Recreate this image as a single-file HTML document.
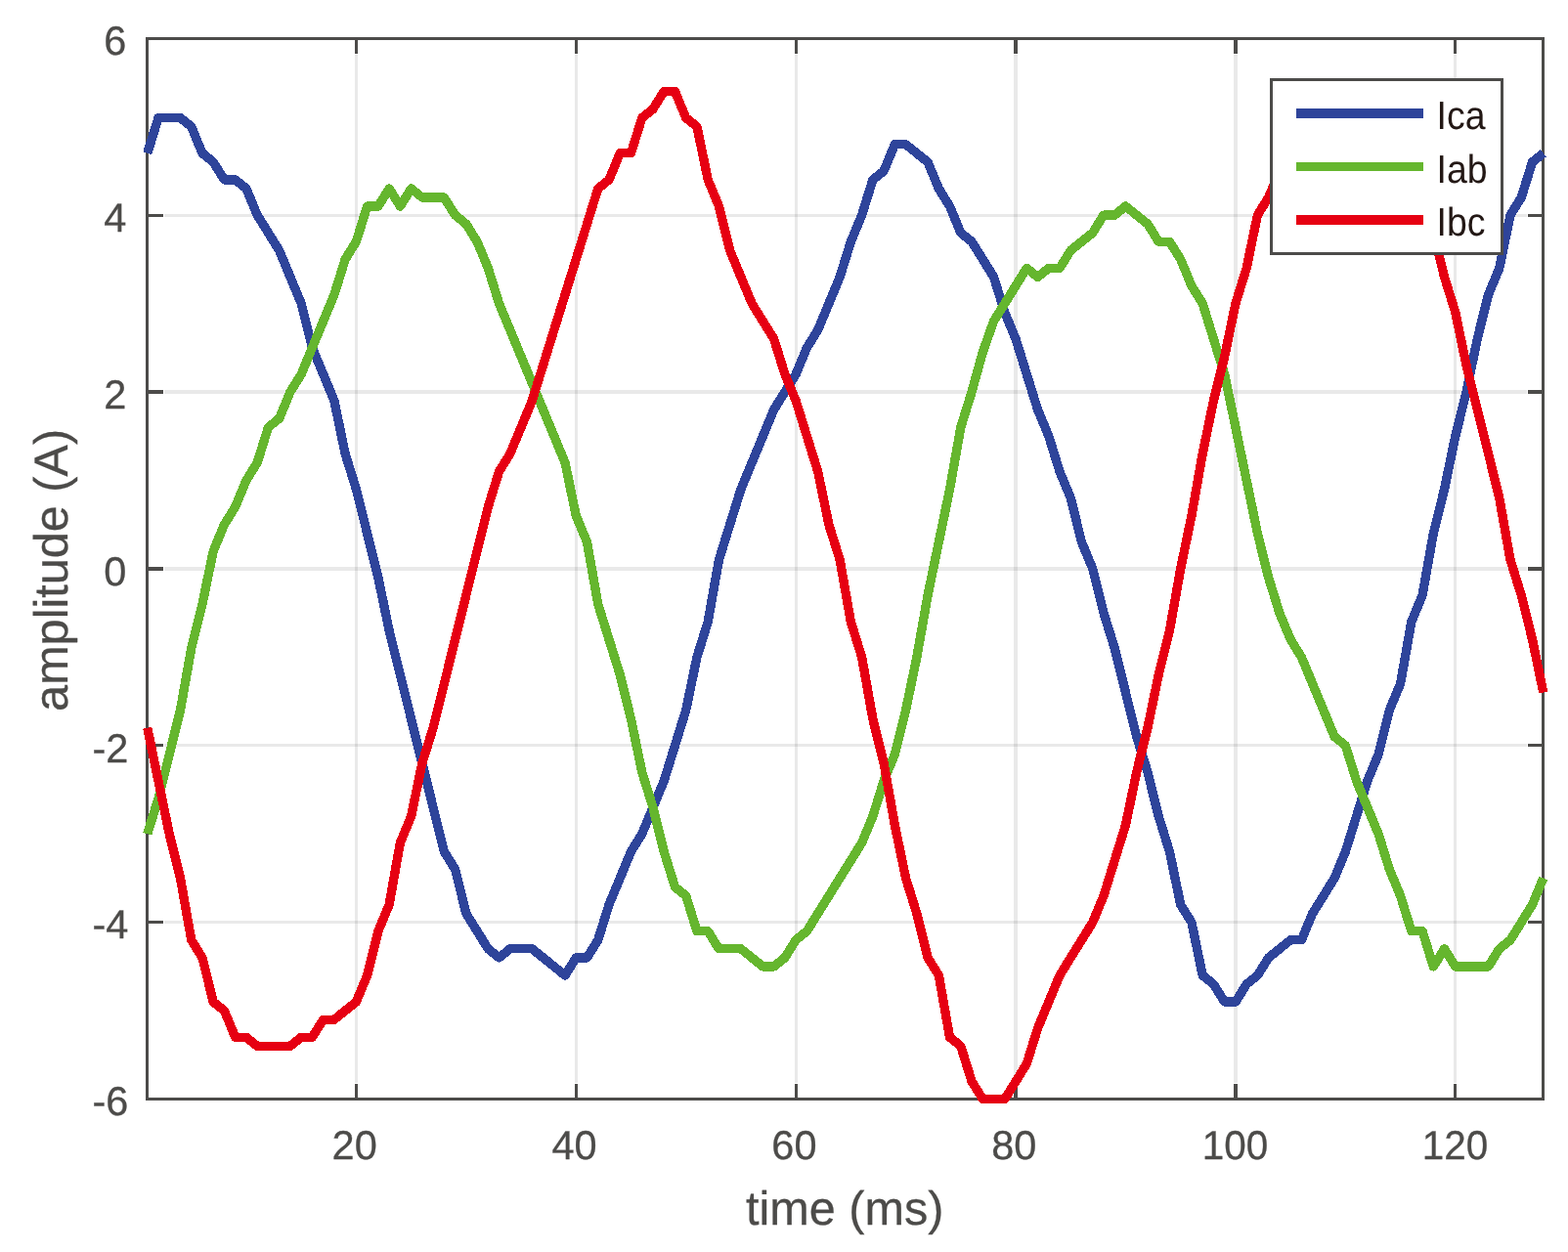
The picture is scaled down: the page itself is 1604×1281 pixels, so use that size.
<!DOCTYPE html>
<html lang="en"><head><meta charset="utf-8"><title>Line currents</title>
<style>html,body{margin:0;padding:0;background:#fff}body{width:1604px;height:1281px;overflow:hidden}svg{display:block}text{font-family:"Liberation Sans",Arial,Helvetica,sans-serif;text-rendering:geometricPrecision}</style></head><body>
<svg width="1604" height="1281" viewBox="0 0 1604 1281">
<rect x="0" y="0" width="1604" height="1281" fill="#fff"/>
<g fill="#262626" fill-opacity="0.1" shape-rendering="crispEdges">
<rect x="363" y="56" width="3" height="1052"/>
<rect x="588" y="56" width="3" height="1052"/>
<rect x="813" y="56" width="3" height="1052"/>
<rect x="1037" y="56" width="4" height="1052"/>
<rect x="1262" y="56" width="4" height="1052"/>
<rect x="1487" y="56" width="3" height="1052"/>
<rect x="168" y="219" width="1394" height="3"/>
<rect x="168" y="399" width="1394" height="4"/>
<rect x="168" y="580" width="1394" height="4"/>
<rect x="168" y="761" width="1394" height="3"/>
<rect x="168" y="942" width="1394" height="3"/>
</g>
<g fill="#4c4b49" shape-rendering="crispEdges">
<rect x="149" y="38" width="1431" height="3"/>
<rect x="149" y="1123" width="1431" height="3"/>
<rect x="149" y="38" width="3" height="1088"/>
<rect x="1577" y="38" width="3" height="1088"/>
<rect x="363" y="41" width="3" height="14"/>
<rect x="363" y="1109" width="3" height="14"/>
<rect x="588" y="41" width="3" height="14"/>
<rect x="588" y="1109" width="3" height="14"/>
<rect x="813" y="41" width="3" height="14"/>
<rect x="813" y="1109" width="3" height="14"/>
<rect x="1037" y="41" width="4" height="14"/>
<rect x="1037" y="1109" width="4" height="14"/>
<rect x="1262" y="41" width="4" height="14"/>
<rect x="1262" y="1109" width="4" height="14"/>
<rect x="1487" y="41" width="3" height="14"/>
<rect x="1487" y="1109" width="3" height="14"/>
<rect x="152" y="219" width="15" height="3"/>
<rect x="1563" y="219" width="14" height="3"/>
<rect x="152" y="399" width="15" height="4"/>
<rect x="1563" y="399" width="14" height="4"/>
<rect x="152" y="580" width="15" height="4"/>
<rect x="1563" y="580" width="14" height="4"/>
<rect x="152" y="761" width="15" height="3"/>
<rect x="1563" y="761" width="14" height="3"/>
<rect x="152" y="942" width="15" height="3"/>
<rect x="1563" y="942" width="14" height="3"/>
</g>
<g fill="none" stroke-width="9.33" stroke-linejoin="round" stroke-linecap="butt" shape-rendering="crispEdges">
<path stroke="#2e449a" d="M150.75 156.78 L161.99 120.61 L173.24 120.61 L184.48 120.61 L195.73 129.65 L206.97 156.78 L218.21 165.83 L229.46 183.92 L240.70 183.92 L251.95 192.97 L263.19 220.10 L274.44 238.19 L285.68 256.28 L296.92 283.42 L308.17 310.55 L319.41 355.77 L330.66 382.91 L341.90 410.04 L353.14 464.31 L364.39 500.49 L375.63 545.72 L386.88 590.94 L398.12 645.22 L409.36 690.44 L420.61 735.67 L431.85 780.89 L443.10 826.11 L454.34 871.34 L465.58 889.43 L476.83 934.65 L488.07 952.75 L499.32 970.83 L510.56 979.88 L521.81 970.83 L533.05 970.83 L544.29 970.83 L555.54 979.88 L566.78 988.92 L578.03 997.97 L589.27 979.88 L600.51 979.88 L611.76 961.79 L623.00 925.61 L634.25 898.48 L645.49 871.34 L656.73 853.25 L667.98 826.11 L679.22 798.98 L690.47 762.80 L701.71 726.62 L712.95 672.35 L724.20 636.17 L735.44 572.86 L746.69 536.67 L757.93 500.49 L769.18 473.36 L780.42 446.22 L791.66 419.09 L802.91 401.00 L814.15 382.91 L825.40 355.77 L836.64 337.68 L847.88 310.55 L859.13 283.42 L870.37 247.23 L881.62 220.10 L892.86 183.92 L904.10 174.88 L915.35 147.74 L926.59 147.74 L937.84 156.78 L949.08 165.83 L960.32 192.97 L971.57 211.06 L982.81 238.19 L994.06 247.23 L1005.30 265.32 L1016.55 283.42 L1027.79 319.59 L1039.03 346.73 L1050.28 382.91 L1061.52 419.09 L1072.77 446.22 L1084.01 482.40 L1095.25 509.54 L1106.50 554.76 L1117.74 581.90 L1128.99 627.12 L1140.23 663.30 L1151.47 708.53 L1162.72 753.75 L1173.96 789.94 L1185.21 835.16 L1196.45 871.34 L1207.69 925.61 L1218.94 943.70 L1230.18 997.97 L1241.43 1007.01 L1252.67 1025.10 L1263.92 1025.10 L1275.16 1007.01 L1286.40 997.97 L1297.65 979.88 L1308.89 970.83 L1320.14 961.79 L1331.38 961.79 L1342.62 934.65 L1353.87 916.56 L1365.11 898.48 L1376.36 871.34 L1387.60 835.16 L1398.84 798.98 L1410.09 771.84 L1421.33 726.62 L1432.58 699.49 L1443.82 636.17 L1455.06 609.03 L1466.31 545.72 L1477.55 500.49 L1488.80 446.22 L1500.04 401.00 L1511.29 346.73 L1522.53 301.50 L1533.77 274.37 L1545.02 220.10 L1556.26 202.01 L1567.51 165.83 L1578.75 156.78"/>
<path stroke="#65b62e" d="M150.75 853.25 L161.99 817.07 L173.24 771.84 L184.48 726.62 L195.73 663.30 L206.97 618.08 L218.21 563.81 L229.46 536.67 L240.70 518.58 L251.95 491.45 L263.19 473.36 L274.44 437.18 L285.68 428.13 L296.92 401.00 L308.17 382.91 L319.41 355.77 L330.66 328.64 L341.90 301.50 L353.14 265.32 L364.39 247.23 L375.63 211.06 L386.88 211.06 L398.12 192.97 L409.36 211.06 L420.61 192.97 L431.85 202.01 L443.10 202.01 L454.34 202.01 L465.58 220.10 L476.83 229.14 L488.07 247.23 L499.32 274.37 L510.56 310.55 L521.81 337.68 L533.05 364.82 L544.29 391.95 L555.54 419.09 L566.78 446.22 L578.03 473.36 L589.27 527.63 L600.51 554.76 L611.76 618.08 L623.00 654.26 L634.25 690.44 L645.49 735.67 L656.73 789.94 L667.98 826.11 L679.22 871.34 L690.47 907.52 L701.71 916.56 L712.95 952.75 L724.20 952.75 L735.44 970.83 L746.69 970.83 L757.93 970.83 L769.18 979.88 L780.42 988.92 L791.66 988.92 L802.91 979.88 L814.15 961.79 L825.40 952.75 L836.64 934.65 L847.88 916.56 L859.13 898.48 L870.37 880.38 L881.62 862.29 L892.86 835.16 L904.10 798.98 L915.35 771.84 L926.59 726.62 L937.84 672.35 L949.08 609.03 L960.32 554.76 L971.57 500.49 L982.81 437.18 L994.06 401.00 L1005.30 360.30 L1016.55 328.64 L1027.79 310.55 L1039.03 292.46 L1050.28 274.37 L1061.52 283.42 L1072.77 274.37 L1084.01 274.37 L1095.25 256.28 L1106.50 247.23 L1117.74 238.19 L1128.99 220.10 L1140.23 220.10 L1151.47 211.06 L1162.72 220.10 L1173.96 229.14 L1185.21 247.23 L1196.45 247.23 L1207.69 265.32 L1218.94 292.46 L1230.18 310.55 L1241.43 346.73 L1252.67 382.91 L1263.92 437.18 L1275.16 491.45 L1286.40 545.72 L1297.65 590.94 L1308.89 627.12 L1320.14 654.26 L1331.38 672.35 L1342.62 699.49 L1353.87 726.62 L1365.11 753.75 L1376.36 762.80 L1387.60 798.98 L1398.84 826.11 L1410.09 853.25 L1421.33 889.43 L1432.58 916.56 L1443.82 952.75 L1455.06 952.75 L1466.31 988.92 L1477.55 970.83 L1488.80 988.92 L1500.04 988.92 L1511.29 988.92 L1522.53 988.92 L1533.77 970.83 L1545.02 961.79 L1556.26 943.70 L1567.51 925.61 L1578.75 898.48"/>
<path stroke="#e60012" d="M150.75 744.71 L161.99 798.98 L173.24 853.25 L184.48 898.48 L195.73 961.79 L206.97 979.88 L218.21 1025.10 L229.46 1034.15 L240.70 1061.28 L251.95 1061.28 L263.19 1070.33 L274.44 1070.33 L285.68 1070.33 L296.92 1070.33 L308.17 1061.28 L319.41 1061.28 L330.66 1043.19 L341.90 1043.19 L353.14 1034.15 L364.39 1025.10 L375.63 997.97 L386.88 952.75 L398.12 925.61 L409.36 862.29 L420.61 835.16 L431.85 780.89 L443.10 744.71 L454.34 699.49 L465.58 654.26 L476.83 609.03 L488.07 563.81 L499.32 518.58 L510.56 482.40 L521.81 464.31 L533.05 437.18 L544.29 410.04 L555.54 373.86 L566.78 337.68 L578.03 301.50 L589.27 265.32 L600.51 229.14 L611.76 192.97 L623.00 183.92 L634.25 156.78 L645.49 156.78 L656.73 120.61 L667.98 111.56 L679.22 93.47 L690.47 93.47 L701.71 120.61 L712.95 129.65 L724.20 183.92 L735.44 211.06 L746.69 256.28 L757.93 283.42 L769.18 310.55 L780.42 328.64 L791.66 346.73 L802.91 382.91 L814.15 410.04 L825.40 446.22 L836.64 482.40 L847.88 536.67 L859.13 572.86 L870.37 636.17 L881.62 672.35 L892.86 735.67 L904.10 780.89 L915.35 844.21 L926.59 898.48 L937.84 934.65 L949.08 979.88 L960.32 997.97 L971.57 1061.28 L982.81 1070.33 L994.06 1106.51 L1005.30 1124.60 L1016.55 1124.60 L1027.79 1124.60 L1039.03 1106.51 L1050.28 1088.42 L1061.52 1052.24 L1072.77 1025.10 L1084.01 997.97 L1095.25 979.88 L1106.50 961.79 L1117.74 943.70 L1128.99 916.56 L1140.23 880.38 L1151.47 844.21 L1162.72 789.94 L1173.96 744.71 L1185.21 690.44 L1196.45 645.22 L1207.69 581.90 L1218.94 527.63 L1230.18 464.31 L1241.43 410.04 L1252.67 364.82 L1263.92 310.55 L1275.16 274.37 L1286.40 220.10 L1297.65 202.01 L1308.89 174.88 L1320.14 156.78 L1331.38 138.69 L1342.62 120.61 L1353.87 111.56 L1365.11 102.52 L1376.36 102.52 L1387.60 111.56 L1398.84 120.61 L1410.09 138.69 L1421.33 156.78 L1432.58 174.88 L1443.82 192.97 L1455.06 211.06 L1466.31 238.19 L1477.55 283.42 L1488.80 319.59 L1500.04 373.86 L1511.29 419.09 L1522.53 464.31 L1533.77 509.54 L1545.02 572.86 L1556.26 609.03 L1567.51 654.26 L1578.75 708.53"/>
</g>
<g shape-rendering="crispEdges">
<rect x="1300.5" y="81.5" width="236" height="178" fill="#fff" stroke="#4c4b49" stroke-width="3"/>
<rect x="1326" y="111" width="130" height="10" fill="#2e449a"/>
<rect x="1326" y="166" width="130" height="9" fill="#65b62e"/>
<rect x="1326" y="220" width="130" height="10" fill="#e60012"/>
</g>
<g font-size="40.6" fill="#231815">
<text transform="translate(1469.6,131.8) scale(0.922,1)">Ica</text>
<text transform="translate(1469.6,186.8) scale(0.922,1)">Iab</text>
<text transform="translate(1469.6,241.1) scale(0.922,1)">Ibc</text>
</g>
<g font-size="41.5" fill="#4c4b49" stroke="#4c4b49" stroke-width="0.3">
<text transform="translate(362.64,1186.3) scale(1,1)" text-anchor="middle">20</text>
<text transform="translate(587.52,1186.3) scale(1,1)" text-anchor="middle">40</text>
<text transform="translate(812.40,1186.3) scale(1,1)" text-anchor="middle">60</text>
<text transform="translate(1037.28,1186.3) scale(1,1)" text-anchor="middle">80</text>
<text transform="translate(1263.52,1186.3) scale(0.975,1)" text-anchor="middle">100</text>
<text transform="translate(1488.40,1186.3) scale(0.975,1)" text-anchor="middle">120</text>
<text transform="translate(129.4,56.20) scale(1,1)" text-anchor="end">6</text>
<text transform="translate(129.4,237.03) scale(1,1)" text-anchor="end">4</text>
<text transform="translate(129.4,417.87) scale(1,1)" text-anchor="end">2</text>
<text transform="translate(129.4,598.70) scale(1,1)" text-anchor="end">0</text>
<text transform="translate(131.3,779.53) scale(1,1)" text-anchor="end">-2</text>
<text transform="translate(131.3,960.37) scale(1,1)" text-anchor="end">-4</text>
<text transform="translate(131.3,1141.20) scale(1,1)" text-anchor="end">-6</text>
</g>
<g font-size="48.6" fill="#4c4b49" stroke="#4c4b49" stroke-width="0.3">
<text x="864.2" y="1253" text-anchor="middle">time (ms)</text>
<text transform="translate(68.5,583.4) rotate(-90)" text-anchor="middle">amplitude (A)</text>
</g>
</svg></body></html>
